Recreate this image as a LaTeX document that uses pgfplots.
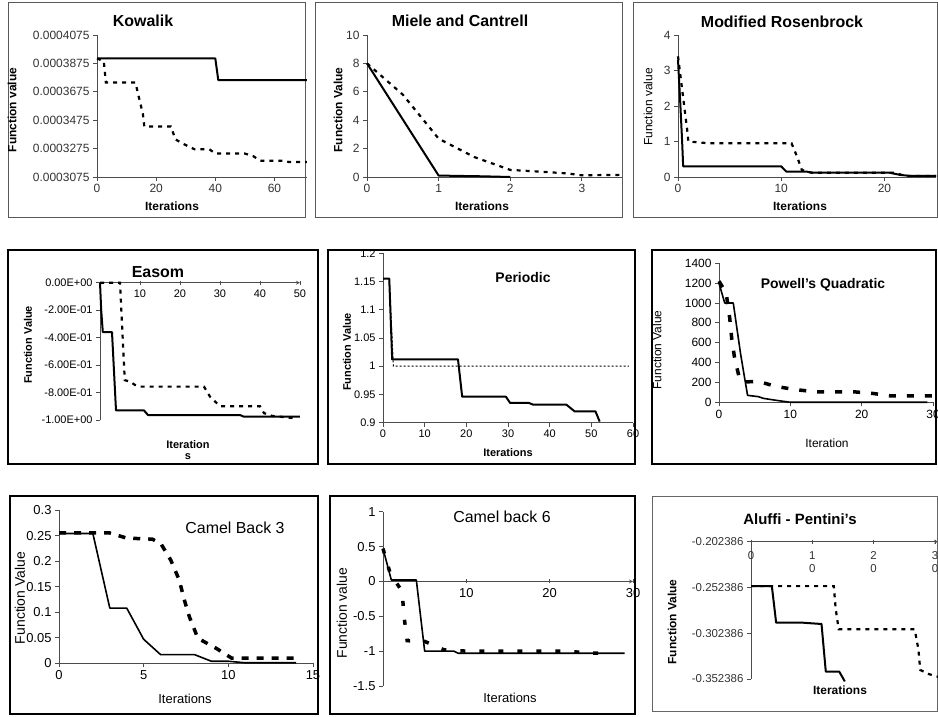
\documentclass[border=0pt]{standalone}
\usepackage{pgfplots}
\pgfplotsset{compat=1.18}
\usepackage{fontspec}
\setmainfont{Liberation Sans}
\pgfplotsset{
  panel/.style={scale only axis, anchor=south west,
    axis x line=bottom, axis y line=left,
    axis line style={-, draw=black!70, line width=0.8bp},
    tick style={draw=black!70, line width=0.8bp},
    tick align=outside, major tick length=4bp, clip=false,
    enlargelimits=false, scaled x ticks=false, scaled y ticks=false,
    ticklabel style={font=\fontsize{12}{13}\selectfont, text=black!80}},
  sol/.style={black, line width=2bp, line join=round, mark=none},
  dsh/.style={black, line width=2.2bp, dash pattern=on 4bp off 5bp, mark=none},
}
\begin{document}
\begin{tikzpicture}[x=1bp,y=1bp]
\path[use as bounding box] (0bp,0bp) rectangle (938bp,717bp);
% frames
\draw[black!65, line width=1bp] (8bp,714bp) rectangle (305bp,499bp);
\draw[black!65, line width=1bp] (315bp,714bp) rectangle (622bp,499bp);
\draw[black!65, line width=1bp] (633bp,714bp) rectangle (937bp,499bp);
\draw[black, line width=1.3bp] (8bp,467bp) rectangle (318bp,253bp);
\draw[black, line width=2bp] (328bp,467bp) rectangle (635bp,253bp);
\draw[black, line width=2bp] (652bp,467bp) rectangle (936bp,253bp);
\draw[black, line width=2bp] (10bp,221bp) rectangle (318bp,3bp);
\draw[black, line width=2bp] (330bp,221bp) rectangle (635bp,3bp);
\draw[black!60, line width=1bp] (652bp,220bp) rectangle (937bp,5bp);

% P1 Kowalik
\begin{axis}[panel, at={(97bp,540bp)}, width=210bp, height=142bp,
  xmin=0, xmax=71, ymin=0.0003075, ymax=0.0004075,
  xtick={0,20,40,60}, xticklabels={0,20,40,60},
  ytick={0.0003075,0.0003275,0.0003475,0.0003675,0.0003875,0.0004075},
  yticklabels={0.0003075,0.0003275,0.0003475,0.0003675,0.0003875,0.0004075}]
\addplot[sol] coordinates {(0,0.000391) (40,0.000391) (41,0.0003758) (71,0.0003758)};
\addplot[dsh] coordinates {(0,0.000391) (2.3,0.000389) (3,0.000374) (13,0.000374) (14,0.000365) (15.5,0.000352) (16,0.000343) (25,0.000343) (26.5,0.000334) (29,0.000331) (33,0.000327) (38,0.000327) (40,0.000324) (50,0.000324) (53,0.000322) (55,0.000319) (63,0.000319) (65,0.000318) (71,0.000318)};
\end{axis}

% P2 Miele and Cantrell
\begin{axis}[panel, at={(367bp,540bp)}, width=255bp, height=142bp,
  xmin=0, xmax=3.56, ymin=0, ymax=10,
  xtick={0,1,2,3}, xticklabels={0,1,2,3},
  ytick={0,2,4,6,8,10}, yticklabels={0,2,4,6,8,10}]
\addplot[sol] coordinates {(0,8) (1,0.1) (1.6,0.05) (2,0)};
\addplot[dsh] coordinates {(0,8) (0.5,5.8) (1,2.7) (1.5,1.4) (2,0.5) (2.5,0.35) (2.8,0.25) (3,0.12) (3.55,0.15)};
\end{axis}

% P3 Modified Rosenbrock
\begin{axis}[panel, at={(678bp,540bp)}, width=258bp, height=142bp,
  xmin=0, xmax=25, ymin=0, ymax=4,
  xtick={0,10,20}, xticklabels={0,10,20},
  ytick={0,1,2,3,4}, yticklabels={0,1,2,3,4}]
\addplot[sol] coordinates {(0,3.3) (0.2,2.2) (0.4,1.0) (0.5,0.3) (10,0.3) (10.5,0.15) (12.5,0.15) (13,0.12) (20.5,0.12) (21.5,0.06) (22.5,0.03) (25,0.03)};
\addplot[dsh] coordinates {(0,3.4) (0.3,2.7) (0.6,2.0) (0.9,1.3) (1,1.0) (3,0.95) (11,0.95) (11.5,0.6) (12,0.2) (12.5,0.15) (13,0.12) (21,0.12) (22,0.03) (25,0.03)};
\end{axis}

% P4 Easom
\begin{axis}[panel, axis x line=middle, at={(100bp,297bp)}, width=200bp, height=137.3bp,
  xmin=0, xmax=50, ymin=-1, ymax=0,
  ticklabel style={font=\fontsize{11}{12}\selectfont, text=black},
  xtick={0,10,20,30,40,50}, xticklabels={0,10,20,30,40,50},
  xticklabel style={yshift=-2bp},
  ytick={-1,-0.8,-0.6,-0.4,-0.2,0},
  yticklabels={-1.00E+00,-8.00E-01,-6.00E-01,-4.00E-01,-2.00E-01,0.00E+00}]
\addplot[sol] coordinates {(0,0) (0.3,-0.2) (0.7,-0.36) (3,-0.36) (4,-0.93) (11,-0.93) (12,-0.964) (35,-0.964) (36,-0.976) (50,-0.976)};
\addplot[dsh] coordinates {(0,0) (5,0) (5.5,-0.3) (6,-0.6) (6.2,-0.71) (7.5,-0.72) (9,-0.75) (10,-0.757) (26,-0.757) (27.5,-0.83) (30,-0.9) (40,-0.9) (41,-0.95) (43,-0.97) (49,-0.988)};
\end{axis}

% P5 Periodic
\begin{axis}[panel, at={(383bp,294.3bp)}, width=250bp, height=169.4bp,
  xmin=0, xmax=60, ymin=0.9, ymax=1.2,
  ticklabel style={font=\fontsize{11}{12}\selectfont, text=black},
  xtick={0,10,20,30,40,50,60}, xticklabels={0,10,20,30,40,50,60},
  ytick={0.9,0.95,1,1.05,1.1,1.15,1.2},
  yticklabels={0.9,0.95,1,1.05,1.1,1.15,1.2}]
\addplot[sol] coordinates {(0,1.155) (1.5,1.155) (2.2,1.012) (18,1.012) (19,0.946) (29.5,0.946) (30.5,0.935) (35,0.935) (36,0.932) (44,0.932) (46,0.92) (51,0.92) (52,0.902)};
\addplot[black, line width=1bp, dash pattern=on 2bp off 2bp] coordinates {(0,1.155) (1.5,1.155) (2.5,1.0) (59,1.0)};
\end{axis}

% P6 Powell's Quadratic
\begin{axis}[panel, at={(719bp,314.7bp)}, width=214bp, height=139bp,
  xmin=0, xmax=30, ymin=0, ymax=1400,
  ticklabel style={font=\fontsize{12}{13}\selectfont, text=black},
  xtick={0,10,20,30}, xticklabels={0,10,20,30},
  ytick={0,200,400,600,800,1000,1200,1400},
  yticklabels={0,200,400,600,800,1000,1200,1400}]
\addplot[black, line width=1.6bp, line join=round] coordinates {(0,1200) (0.8,1000) (2,1000) (3,500) (4,70) (5.5,57) (6.2,40) (8,20) (10,0) (29.2,0)};
\addplot[black, line width=3.5bp, dash pattern=on 7bp off 11bp] coordinates {(0,1220) (1,1100) (1.5,850) (1.8,630) (2.2,440) (2.8,260) (3.5,205) (5.5,210) (8,160) (10.5,130) (13.5,105) (19,105) (21.5,90) (24,65) (30,65)};
\end{axis}

% P7 Camel Back 3
\begin{axis}[panel, at={(59bp,53.7bp)}, width=254bp, height=153.3bp,
  xmin=0, xmax=15, ymin=0, ymax=0.3,
  ticklabel style={font=\fontsize{13}{14}\selectfont, text=black},
  xtick={0,5,10,15}, xticklabels={0,5,10,15},
  ytick={0,0.05,0.1,0.15,0.2,0.25,0.3},
  yticklabels={0,0.05,0.1,0.15,0.2,0.25,0.3}]
\addplot[black, line width=1.6bp, line join=round] coordinates {(0,0.254) (2,0.254) (3,0.108) (4,0.108) (5,0.047) (6,0.017) (8,0.017) (9,0.004) (10,0.004) (11,0.001) (14,0.001)};
\addplot[black, line width=3.5bp, dash pattern=on 7bp off 8bp] coordinates {(0,0.255) (3,0.255) (4,0.245) (5.5,0.243) (6,0.235) (6.6,0.202) (7.1,0.163) (7.4,0.124) (7.7,0.091) (8.2,0.049) (9.3,0.029) (10.2,0.01) (14,0.01)};
\end{axis}

% P8 Camel back 6
\begin{axis}[panel, axis x line=middle, at={(383bp,31bp)}, width=250bp, height=174.3bp,
  xmin=0, xmax=30, ymin=-1.5, ymax=1,
  ticklabel style={font=\fontsize{13}{14}\selectfont, text=black},
  xtick={0,10,20,30}, xticklabels={0,10,20,30},
  xticklabel style={yshift=-2bp},
  ytick={-1.5,-1,-0.5,0,0.5,1},
  yticklabels={-1.5,-1,-0.5,0,0.5,1}]
\addplot[black, line width=1.6bp, line join=round] coordinates {(0,0.47) (1,0.02) (4,0.02) (5,-1.0) (8.5,-1.0) (9,-1.03) (29,-1.03)};
\addplot[black, line width=3.5bp, dash pattern=on 5bp off 14bp] coordinates {(0,0.47) (0.9,0.1) (2.3,-0.14) (2.5,-0.48) (2.9,-0.85) (5,-0.86) (7.3,-0.98) (10,-1.0) (22,-1.0) (25,-1.03) (27.5,-1.03)};
\end{axis}

% P9 Aluffi - Pentini's
\begin{axis}[panel, axis x line=top, at={(751bp,38bp)}, width=187bp, height=137.3bp,
  xmin=0, xmax=30.5, ymin=-0.352386, ymax=-0.202386,
  ticklabel style={font=\fontsize{11.5}{13}\selectfont, text=black!80},
  xtick={0,10,20,30}, xticklabels={0,{1\\0},{2\\0},{3\\0}},
  xticklabel style={anchor=north, align=center, yshift=-8bp},
  ytick={-0.352386,-0.302386,-0.252386,-0.202386},
  yticklabels={-0.352386,-0.302386,-0.252386,-0.202386}]
\addplot[sol] coordinates {(0,-0.2509) (3.4,-0.2509) (4.1,-0.2909) (8.5,-0.2909) (11.5,-0.2923) (12.2,-0.3444) (14.4,-0.3444) (15.3,-0.355)};
\addplot[dsh] coordinates {(0,-0.2509) (13.5,-0.2509) (13.8,-0.275) (14.3,-0.2981) (26.7,-0.2981) (27.3,-0.32) (27.6,-0.3425) (29,-0.347) (30.5,-0.35)};
\end{axis}

% titles and labels
\def\tb#1{\fontsize{#1}{#1}\selectfont\bfseries}
\def\tr#1{\fontsize{#1}{#1}\selectfont}
\node[font=\tb{16}] at (143bp,696bp) {Kowalik};
\node[font=\tb{12}, rotate=90] at (12bp,607bp) {Function value};
\node[font=\tb{12}] at (172bp,511bp) {Iterations};

\node[font=\tb{16}] at (460bp,696bp) {Miele and Cantrell};
\node[font=\tb{12}, rotate=90] at (338bp,607bp) {Function Value};
\node[font=\tb{12}] at (482bp,511bp) {Iterations};

\node[font=\tb{16}] at (782bp,695bp) {Modified Rosenbrock};
\node[font=\tr{12}, rotate=90] at (648bp,610bp) {Function value};
\node[font=\tb{12}] at (800bp,511bp) {Iterations};

\node[font=\tb{16}] at (158bp,445bp) {Easom};
\node[font=\tb{11}, rotate=90] at (28bp,372bp) {Function Value};
\node[font=\tb{11}, align=center] at (188bp,267bp) {Iteration\\s};

\node[font=\tb{14}] at (523bp,439bp) {Periodic};
\node[font=\tb{11}, rotate=90] at (347bp,365bp) {Function Value};
\node[font=\tb{11}] at (508bp,264bp) {Iterations};

\node[font=\tb{14}] at (823bp,432bp) {Powell's Quadratic};
\node[font=\tr{12}, rotate=90] at (657bp,367bp) {Function Value};
\node[font=\tr{12}] at (827bp,274bp) {Iteration};

\node[font=\tr{16}] at (235bp,189bp) {Camel Back 3};
\node[font=\tr{14}, rotate=90] at (20bp,119bp) {Function Value};
\node[font=\tr{13}] at (185bp,18bp) {Iterations};

\node[font=\tr{16}] at (502bp,200bp) {Camel back 6};
\node[font=\tr{14}, rotate=90] at (342bp,104bp) {Function value};
\node[font=\tr{13}] at (510bp,19bp) {Iterations};

\node[font=\tb{15}] at (800bp,198bp) {Aluffi - Pentini's};
\node[font=\tb{12}, rotate=90] at (672bp,95bp) {Function Value};
\node[font=\tb{12}] at (840bp,27bp) {Iterations};
\end{tikzpicture}
\end{document}
